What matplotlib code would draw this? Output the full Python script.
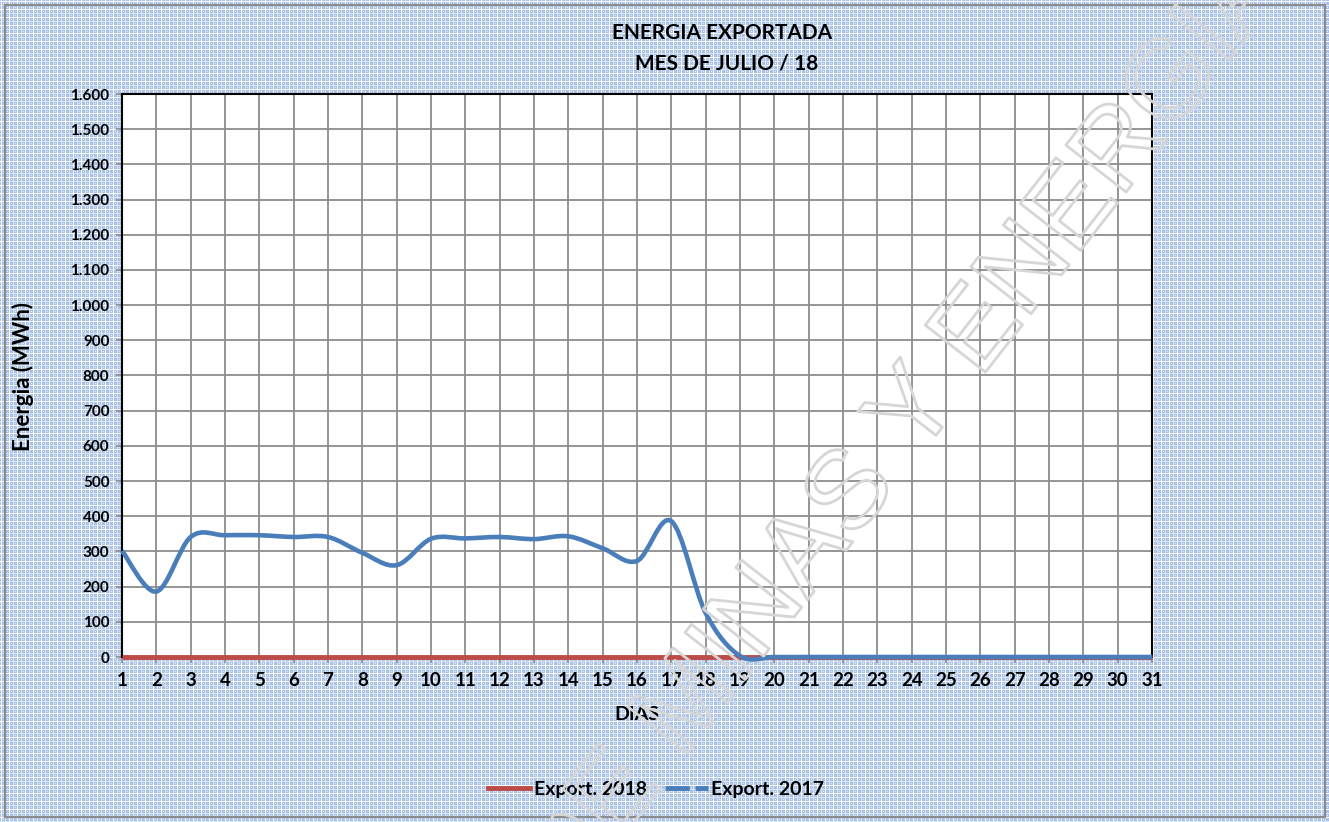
import matplotlib
matplotlib.use("Agg")
import matplotlib.pyplot as plt
import matplotlib.patheffects as pe
from matplotlib.path import Path
from matplotlib.patches import PathPatch, Rectangle
from matplotlib.lines import Line2D
from matplotlib.ticker import FuncFormatter
import numpy as np

# data
days = list(range(1, 32))
export_2018 = [0] * 31
export_2017 = [302, 186, 341, 346, 346, 341, 341, 296, 261, 336,
               337, 341, 335, 343, 309, 273, 386, 125, 3, 0,
               0, 0, 0, 0, 0, 0, 0, 0, 0, 0, 0]
y_ticks = list(range(0, 1700, 100))

plt.rcParams['font.family'] = ['Lato', 'DejaVu Sans']
plt.rcParams['font.weight'] = 'bold'

fig = plt.figure(figsize=(13.29, 8.22), dpi=100)

# blue checked background texture
tile = np.zeros((8, 8, 3))
tile[:, :] = (0.66, 0.76, 0.90)
tile[1, :] = (1, 1, 1)
tile[:, 1] = (1, 1, 1)
tile[5, :] = (0.86, 0.90, 0.97)
tile[:, 5] = (0.86, 0.90, 0.97)
tile[3, 3] = (0.95, 0.96, 0.99)
tile[7, 7] = (0.95, 0.96, 0.99)
bg = np.tile(tile, (822 // 8 + 1, 1329 // 8 + 1, 1))[:822, :1329]
fig.figimage(bg, 0, 0, zorder=-10)
fig.patches.append(Rectangle((5 / 1329, 5 / 822), 1320 / 1329, 812 / 822,
                             transform=fig.transFigure, fill=False,
                             edgecolor='#8c8c8c', lw=1.5, zorder=-5))

ax = fig.add_axes([122 / 1329, 165 / 822, 1030 / 1329, 563 / 822])
ax.set_facecolor('white')

ax.plot(days, export_2018, color='#be4b48', lw=3.5, solid_capstyle='butt',
        zorder=3, clip_on=False)


# smoothed line like the spreadsheet one: cubic bezier segments
def smooth_path(x, y):
    pts = np.column_stack([x, y]).astype(float)
    ext = np.vstack([pts[0], pts, pts[-1]])
    verts = [tuple(pts[0])]
    codes = [Path.MOVETO]
    for i in range(len(pts) - 1):
        p0, p1, p2, p3 = ext[i], ext[i + 1], ext[i + 2], ext[i + 3]
        c1 = p1 + (p2 - p0) / 6
        c2 = p2 - (p3 - p1) / 6
        verts += [tuple(c1), tuple(c2), tuple(p2)]
        codes += [Path.CURVE4] * 3
    return Path(verts, codes)


ax.add_patch(PathPatch(smooth_path(days, export_2017), facecolor='none',
                       edgecolor='#4a7ebb', lw=3.3, zorder=4, clip_on=False))

ax.set_xlim(1, 31)
ax.set_ylim(0, 1600)
ax.set_xticks(days)
ax.set_yticks(y_ticks)
ax.yaxis.set_major_formatter(FuncFormatter(lambda v, p: f"{int(v):,}".replace(',', '.')))
ax.grid(True, color='#8c8c8c', lw=1.3)
ax.set_axisbelow(True)
for s in ax.spines.values():
    s.set_color('black')
    s.set_linewidth(1.5)
ax.tick_params(axis='both', direction='out', color='#8c8c8c', length=4, width=1.2)
ax.tick_params(axis='x', labelsize=13.5, pad=7)
ax.tick_params(axis='y', labelsize=11, pad=5)
for lab in ax.get_xticklabels() + ax.get_yticklabels():
    lab.set_fontweight('bold')

fig.text(722 / 1329, 1 - 33 / 822, "ENERGIA EXPORTADA", ha='center', va='center',
         fontsize=15, fontweight='bold')
fig.text(727 / 1329, 1 - 63 / 822, "MES DE JULIO / 18", ha='center', va='center',
         fontsize=15, fontweight='bold')
fig.text(637 / 1329, 1 - 714 / 822, "DIAS", ha='center', va='center',
         fontsize=14, fontweight='bold')
fig.text(23 / 1329, 1 - 376 / 822, "Energia (MWh)", ha='center', va='center',
         rotation=90, fontsize=16, fontweight='bold')

handles = [Line2D([], [], color='#be4b48', lw=3.5),
           Line2D([], [], color='#4a7ebb', lw=3.5, dashes=(5, 1.2))]
fig.legend(handles, ["Export. 2018", "Export. 2017"], loc='center',
           bbox_to_anchor=(656 / 1329, 1 - 789 / 822), ncol=2, frameon=False,
           prop={'size': 14, 'weight': 'bold'}, handlelength=2.2,
           handletextpad=0.2, columnspacing=0.9)

# outlined watermark across the chart
fig.text(905 / 1329, 1 - 428 / 822, "DE MINAS Y ENERGIA", ha='center', va='center',
         rotation=52, rotation_mode='anchor', fontsize=80, family='Liberation Sans',
         fontweight='normal', color=(1, 1, 1, 0), zorder=20,
         path_effects=[pe.withStroke(linewidth=2, foreground='#d6d6d6')])

fig.savefig("out.png", dpi=100)
